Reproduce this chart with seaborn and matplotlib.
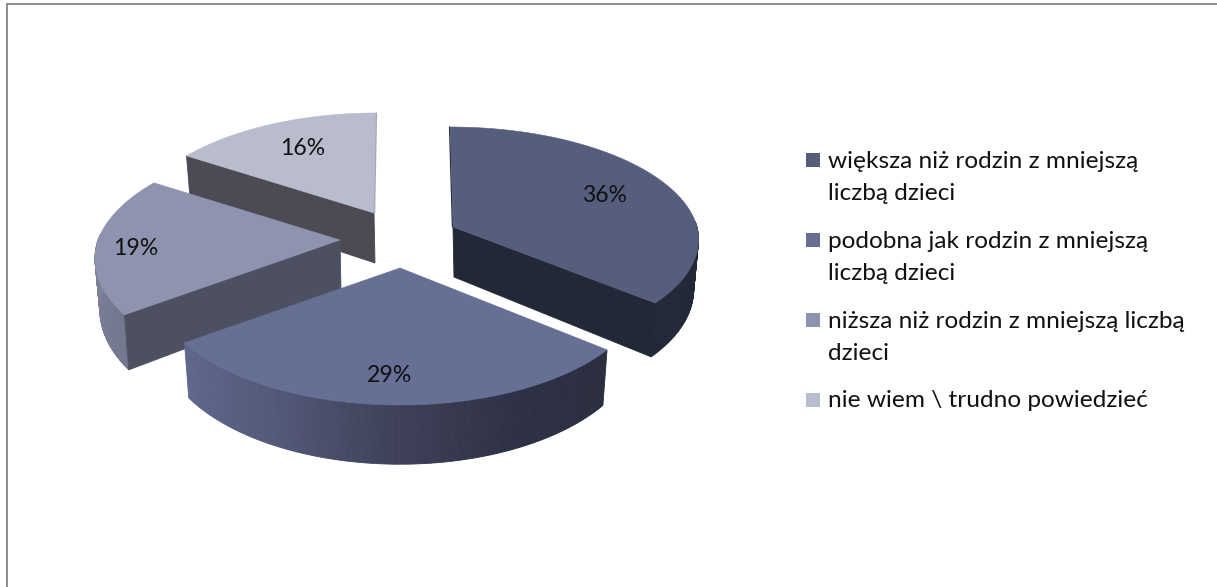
"""Wykres kolowy 3D: ocena sytuacji rodzin wielodzietnych."""
import numpy as np
import matplotlib.pyplot as plt
from matplotlib.patches import Rectangle
import seaborn as sns

categories = [
    "większa niż rodzin z mniejszą\nliczbą dzieci",
    "podobna jak rodzin z mniejszą\nliczbą dzieci",
    "niższa niż rodzin z mniejszą liczbą\ndzieci",
    "nie wiem \\ trudno powiedzieć",
]
shares = [36, 29, 19, 16]

top_colors = ["#555e7d", "#657094", "#8e93af", "#b9bccd"]
cut_colors = ["#232836", "#2a2d3e", "#4d5060", "#4c4a52"]
# gradient sciany: od prawej do lewej
wall_stops = [
    ["#232838", "#232838"],
    ["#2a2d3e", "#2e3145", "#3e4158", "#535a7a", "#5e678c"],
    ["#74788f", "#8589a5"],
    ["#a5a9b5", "#a5a9b5"],
]
# ktore przekroje widac: 0 = pierwszy brzeg, 1 = drugi
visible_cuts = [[1], [], [0], [0]]

# srodek kazdego wycinka po rozsunieciu (px)
apex_x = [453, 400, 340, 374]
apex_y = [227, 268, 240, 213]
label_frac = [0.72, 0.77, 0.84, 0.72]
label_shift = [(0, 1), (-4, 2), (0, 5), (3, 0)]

# elipsa + perspektywa dla kazdego wycinka
ell_a = [244, 242, 242, 242]
ell_b = [111, 115.6, 115.6, 115.6]
persp = [0.11, 0.156, 0.156, 0.156]
DEPTH = 50
SHRINK = 0.98
FONT = 17.6

sns.set_style("white")
plt.rcParams["font.family"] = ["Lato", "DejaVu Sans"]

fig = plt.figure(figsize=(12.17, 5.87), dpi=100)
ax = fig.add_axes([0, 0, 1, 1])
ax.set_xlim(0, 1217)
ax.set_ylim(587, 0)
ax.axis("off")

# ramka widoczna tylko u gory i z lewej, reszta wychodzi poza kadr
ax.add_patch(Rectangle((7, 3.5), 1400, 800, fc="white", ec="#8c8c8c", lw=1.4, zorder=0))


def project(theta, i, depth=False):
    """Kat w stopniach (0 = gora, zgodnie ze wskazowkami) na piksele."""
    cx, cy = apex_x[i], apex_y[i]
    u, v = np.sin(np.radians(theta)), np.cos(np.radians(theta))
    s = 1 / (1 + persp[i] * v)
    x, y = ell_a[i] * u * s, -ell_b[i] * v * s
    skew = (cx - 400) * np.minimum(s - 1, 0) * 0.55
    if depth:
        return cx + x * SHRINK + skew, cy + y + DEPTH * s
    return cx + x + skew, cy + y


edges = np.cumsum([0] + shares) * 3.6
order = [3, 2, 0, 1]   # najpierw tylne wycinki

for z, i in enumerate(order):
    a0, a1 = edges[i], edges[i + 1]
    cx, cy = apex_x[i], apex_y[i]
    th = np.linspace(a0, a1, 160)
    tx, ty = project(th, i)
    bx, by = project(th, i, depth=True)
    bax, bay = cx + 1, cy + DEPTH
    zb = 2 + z * 3

    # sciana zewnetrzna z gradientem, tylko przednia czesc luku
    grad = sns.blend_palette(wall_stops[i], n_colors=len(th) - 1)
    for k in range(len(th) - 1):
        if np.cos(np.radians(th[k])) < 0.05:
            ax.fill([tx[k], tx[k + 1], bx[k + 1], bx[k]],
                    [ty[k], ty[k + 1], by[k + 1], by[k]],
                    color=grad[k], lw=0.6, zorder=zb)

    # sciany przekroju
    for c in visible_cuts[i]:
        k = -c
        ax.fill([cx, tx[k], bx[k], bax], [cy, ty[k], by[k], bay],
                color=cut_colors[i], lw=0.6, zorder=zb + 1)

    # wierzch
    ax.fill(np.r_[cx, tx], np.r_[cy, ty], color=top_colors[i], lw=0.4, zorder=zb + 2)

    mid = (a0 + a1) / 2
    u, v = np.sin(np.radians(mid)), np.cos(np.radians(mid))
    s = 1 / (1 + persp[i] * v)
    ax.text(cx + ell_a[i] * u * s * label_frac[i] + label_shift[i][0],
            cy - ell_b[i] * v * s * label_frac[i] + label_shift[i][1],
            f"{shares[i]}%", ha="center", va="center", fontsize=16.6,
            color="#111111", zorder=30)

# cienkie krawedzie przy pionowym ciecu
x0, y0 = project(0, 0)
ax.plot([x0 - 0.5, apex_x[0] - 0.5], [y0, apex_y[0]], color=cut_colors[0], lw=1, zorder=9)
x3, y3 = project(360, 3)
ax.plot([x3 + 0.5, apex_x[3] + 0.5], [y3, apex_y[3]], color="#a5a9b5", lw=1, zorder=4)

# legenda
leg_y = [153, 233, 313, 393]
for y, col, txt in zip(leg_y, top_colors, categories):
    ax.add_patch(Rectangle((806, y), 14, 14, fc=col, ec="none", zorder=30))
    last = y + 14 + (33 if "\n" in txt else 0)
    ax.text(828, last, txt, ha="left", va="baseline", fontsize=FONT, color="#111111",
            linespacing=1.65, zorder=30)

fig.savefig("out.png", dpi=100)
